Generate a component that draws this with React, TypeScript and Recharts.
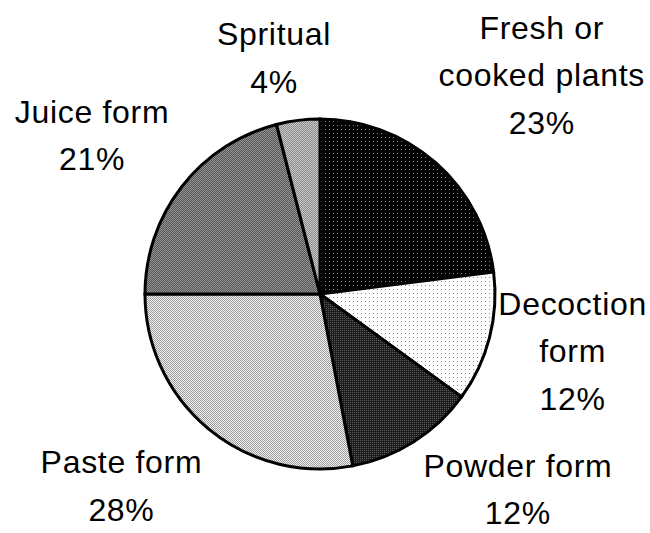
import { Cell, Pie, PieChart } from "recharts";

const FORMS = [
  "Fresh or cooked plants",
  "Decoction form",
  "Powder form",
  "Paste form",
  "Juice form",
  "Spritual",
];
const SHARES = [23, 12, 12, 28, 21, 4];
const LABEL_LINES = [
  ["Fresh or", "cooked plants"],
  ["Decoction", "form"],
  ["Powder form"],
  ["Paste form"],
  ["Juice form"],
  ["Spritual"],
];

// label placement: distance from centre and clockwise nudge (deg)
const LABEL_RADIUS = [312, 259, 278, 276, 278, 241];
const LABEL_SHIFT = [3.9, -1.7, -13, 6.4, -2.9, -3.8];

const PATTERNS = ["pFresh", "pDecoction", "pPowder", "pPaste", "pJuice", "pSpirit"];

const data = FORMS.map((name, i) => ({ name, value: SHARES[i] }));

const RAD = Math.PI / 180;
const FONT = "'Liberation Sans', Arial, sans-serif";
const LINE_H = 47.5;

function renderLabel(props: any) {
  const { cx, cy, midAngle, index, value } = props;
  const a = (midAngle - LABEL_SHIFT[index]) * RAD;
  const r = LABEL_RADIUS[index];
  const x = cx + r * Math.cos(a);
  const y = cy - r * Math.sin(a);
  const lines = [...LABEL_LINES[index], `${value}%`];
  const first = y - ((lines.length - 1) * LINE_H) / 2 + 11.5;
  return (
    <text
      key={`lbl-${index}`}
      x={x}
      y={first}
      textAnchor="middle"
      fontFamily={FONT}
      fontSize={32}
      letterSpacing={0.7}
      fill="#000"
    >
      {lines.map((t, j) => (
        <tspan key={j} x={x} y={first + j * LINE_H}>
          {t}
        </tspan>
      ))}
    </text>
  );
}

export default function App() {
  return (
    <div style={{ position: "absolute", left: 0, top: 0, width: 650, height: 533 }}>
      <PieChart width={650} height={533} margin={{ top: 0, right: 0, bottom: 0, left: 0 }}>
        <defs>
          <pattern id="pFresh" width="4" height="4" patternUnits="userSpaceOnUse">
            <rect width="4" height="4" fill="#000" />
            <rect x="1" y="1" width="1" height="1" fill="#8a8a8a" />
          </pattern>
          <pattern id="pDecoction" width="4" height="4" patternUnits="userSpaceOnUse">
            <rect width="4" height="4" fill="#fff" />
            <rect x="1" y="1" width="1" height="1" fill="#8a8a8a" />
          </pattern>
          <pattern id="pPowder" width="2" height="2" patternUnits="userSpaceOnUse">
            <rect width="2" height="2" fill="#1c1c1c" />
            <rect x="0" y="0" width="1" height="1" fill="#5e5e5e" />
          </pattern>
          <pattern id="pPaste" width="2" height="2" patternUnits="userSpaceOnUse">
            <rect width="2" height="2" fill="#f4f4f4" />
            <rect x="0" y="0" width="1" height="1" fill="#999" />
            <rect x="1" y="1" width="1" height="1" fill="#999" />
          </pattern>
          <pattern id="pJuice" width="2" height="2" patternUnits="userSpaceOnUse">
            <rect width="2" height="2" fill="#555" />
            <rect x="0" y="0" width="1" height="1" fill="#959595" />
            <rect x="1" y="1" width="1" height="1" fill="#959595" />
          </pattern>
          <pattern id="pSpirit" width="2" height="2" patternUnits="userSpaceOnUse">
            <rect width="2" height="2" fill="#8c8c8c" />
            <rect x="0" y="0" width="1" height="1" fill="#c8c8c8" />
            <rect x="1" y="1" width="1" height="1" fill="#c8c8c8" />
          </pattern>
        </defs>
        <Pie
          data={data}
          dataKey="value"
          nameKey="name"
          cx={320}
          cy={294}
          outerRadius={175}
          startAngle={90}
          endAngle={-270}
          stroke="#000"
          strokeWidth={3}
          label={renderLabel}
          labelLine={false}
          isAnimationActive={false}
        >
          {data.map((d, i) => (
            <Cell key={d.name} fill={`url(#${PATTERNS[i]})`} />
          ))}
        </Pie>
      </PieChart>
    </div>
  );
}
